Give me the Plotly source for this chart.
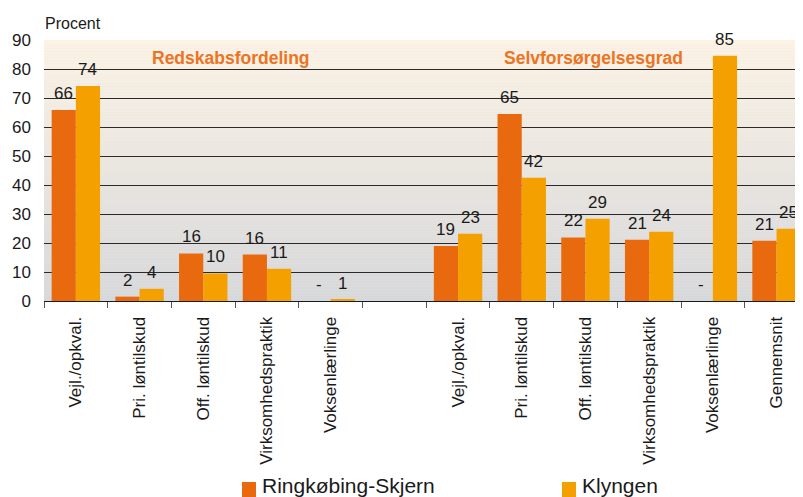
import plotly.graph_objects as go

# --- data -------------------------------------------------------------
categories = ["Vejl./opkval.", "Pri. løntilskud", "Off. løntilskud",
              "Virksomhedspraktik", "Voksenlærlinge", "",
              "Vejl./opkval.", "Pri. løntilskud", "Off. løntilskud",
              "Virksomhedspraktik", "Voksenlærlinge", "Gennemsnit"]
series_names = ["Ringkøbing-Skjern", "Klyngen"]
rs_values = [65.9, 1.5, 16.4, 16.0, None, None, 19.0, 64.5, 21.9, 21.1, None, 20.8]
rs_labels = ["66", "2", "16", "16", "-", "", "19", "65", "22", "21", "-", "21"]
k_values = [74.1, 4.2, 9.5, 11.1, 0.5, None, 23.2, 42.5, 28.4, 23.9, 84.6, 24.9]
k_labels = ["74", "4", "10", "11", "1", "", "23", "42", "29", "24", "85", "25"]
group_titles = ["Redskabsfordeling", "Selvforsørgelsesgrad"]
y_ticks = [0, 10, 20, 30, 40, 50, 60, 70, 80, 90]

colors = ["#E96A0E", "#F4A000"]
FONT = "Liberation Sans, Arial, sans-serif"
W, H = 803, 497
OFF = 8          # page body margin in the browser
ML, MT = 44 - OFF, 40 - OFF
MB = H - (301 - OFF)
SLOT = 63.7
BARGAP = 0.24

pos = list(range(len(categories)))


def py(p):
    # screen pixel row -> paper y
    return (H - MB - (p - OFF)) / (H - MB - MT)


def px(p):
    return (p - OFF - ML) / (W - ML)


fig = go.Figure()
for name, vals, col in zip(series_names, [rs_values, k_values], colors):
    fig.add_trace(go.Bar(x=pos, y=vals, name=name, marker_color=col,
                         marker_line_width=0, showlegend=False))

# gradient background as thin stripes
top, bot = (252, 243, 229), (215, 216, 219)
n = 90
for i in range(n):
    t = i / (n - 1)
    c = tuple(round(bot[k] + (top[k] - bot[k]) * t) for k in range(3))
    fig.add_shape(type="rect", xref="paper", yref="y", x0=0, x1=1,
                  y0=i * 90 / n, y1=(i + 1) * 90 / n, layer="below",
                  line_width=0, fillcolor="rgb(%d,%d,%d)" % c)

annotations = []
half = (1 - BARGAP) / 4
for vals, labs, off in [(rs_values, rs_labels, -half), (k_values, k_labels, half)]:
    for i, (v, lab) in enumerate(zip(vals, labs)):
        if not lab:
            continue
        annotations.append(dict(x=i + off, y=v or 0, xref="x", yref="y",
                                text=lab, showarrow=False, yanchor="bottom",
                                xanchor="center", yshift=5,
                                font=dict(size=17, color="#1a1a1a")))

for title, xp in zip(group_titles, [231, 593]):
    annotations.append(dict(x=px(xp), y=py(58), xref="paper", yref="paper",
                            text="<b>%s</b>" % title, showarrow=False,
                            xanchor="center", yanchor="middle",
                            font=dict(size=17.5, color="#EC7423")))

annotations.append(dict(x=px(43), y=py(24), xref="paper", yref="paper",
                        text="Procent", showarrow=False, xanchor="left",
                        yanchor="middle", font=dict(size=16, color="#1a1a1a")))

# legend (manual)
for name, col, sx in zip(series_names, colors, [242, 562]):
    fig.add_shape(type="rect", xref="paper", yref="paper",
                  x0=px(sx), x1=px(sx + 14), y0=py(497), y1=py(482),
                  fillcolor=col, line_width=0)
    annotations.append(dict(x=px(sx + 18), y=py(485), xref="paper", yref="paper",
                            text=name, showarrow=False, xanchor="left",
                            yanchor="middle", font=dict(size=21, color="#1a1a1a")))

fig.update_layout(
    width=W, height=H,
    margin=dict(l=ML, r=0, t=MT, b=MB, autoexpand=False),
    paper_bgcolor="white", plot_bgcolor="#E8E5DF",
    barmode="group", bargap=BARGAP, bargroupgap=0,
    font=dict(family=FONT, size=16, color="#1a1a1a"),
    annotations=annotations,
    xaxis=dict(
        range=[-0.5, -0.5 + (W - ML) / SLOT], automargin=False,
        tickmode="array", tickvals=pos, ticktext=categories,
        tickangle=-90, ticks="", ticklabelstandoff=8,
        tickfont=dict(size=17),
        showgrid=False, zeroline=False,
        showline=True, linecolor="#1a1a1a", linewidth=1,
        minor=dict(tickmode="array", tickvals=[i - 0.5 for i in range(len(pos) + 1)],
                   ticks="outside", ticklen=6, tickcolor="#555", tickwidth=1,
                   showgrid=False),
    ),
    yaxis=dict(
        range=[0, 90], tickmode="array", tickvals=y_ticks, automargin=False,
        showgrid=True, gridcolor="#2a2a2a", gridwidth=1,
        zeroline=False, showline=False, ticks="",
        ticklabelstandoff=12, tickfont=dict(size=17),
    ),
)

fig.write_html("out.html")
